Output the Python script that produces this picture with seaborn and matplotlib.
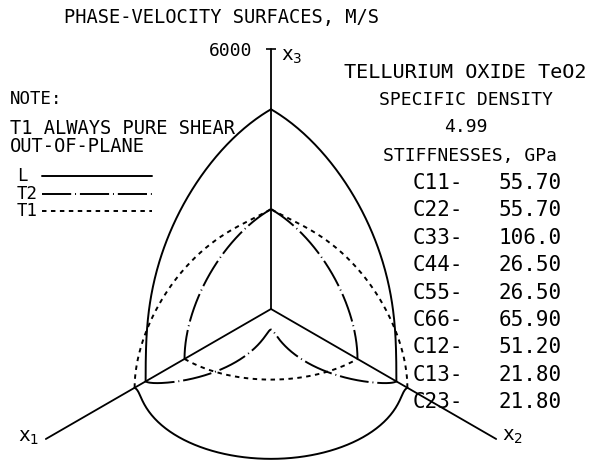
import numpy as np
import pandas as pd
import matplotlib
matplotlib.use("Agg")
import matplotlib.pyplot as plt
import seaborn as sns

# values printed on the chart (TeO2)
density = 4.99  # g/cc
stiff_names = ["C11", "C22", "C33", "C44", "C55", "C66", "C12", "C13", "C23"]
stiff_values = [55.70, 55.70, 106.0, 26.50, 26.50, 65.90, 51.20, 21.80, 21.80]  # GPa
stiff_labels = ["55.70", "55.70", "106.0", "26.50", "26.50", "65.90", "51.20", "21.80", "21.80"]
axis_max = 6000  # m/s, length of each drawn axis
axis_labels = ["x$_1$", "x$_2$", "x$_3$"]
planes = [(0, 2), (1, 2), (0, 1)]  # x1-x3, x2-x3, x1-x2
modes = ["L", "T2", "T1"]
angles = np.linspace(0, 90, 181)

VOIGT = [[0, 5, 4], [5, 1, 3], [4, 3, 2]]


def voigt_matrix(c):
    C = np.zeros((6, 6))
    C[0, 0], C[1, 1], C[2, 2] = c["C11"], c["C22"], c["C33"]
    C[3, 3], C[4, 4], C[5, 5] = c["C44"], c["C55"], c["C66"]
    C[0, 1] = C[1, 0] = c["C12"]
    C[0, 2] = C[2, 0] = c["C13"]
    C[1, 2] = C[2, 1] = c["C23"]
    return C


def christoffel(C, n):
    G = np.zeros((3, 3))
    for i in range(3):
        for k in range(3):
            G[i, k] = sum(C[VOIGT[i][j], VOIGT[k][l]] * n[j] * n[l]
                          for j in range(3) for l in range(3))
    return G


def project(x1, x2, x3):
    # isometric-style view, x3 up, x1 down-left, x2 down-right
    c30, s30 = np.cos(np.pi / 6), np.sin(np.pi / 6)
    return -x1 * c30 + x2 * c30, -x1 * s30 - x2 * s30 + x3


C = voigt_matrix(dict(zip(stiff_names, stiff_values)))

rows = []
for a, b in planes:
    c = 3 - a - b
    for th in angles:
        n = np.zeros(3)
        n[a], n[b] = np.cos(np.radians(th)), np.sin(np.radians(th))
        vals, vecs = np.linalg.eigh(christoffel(C, n))
        out_idx = np.argmax(np.abs(vecs[c, :]))
        inplane = sorted(v for i, v in enumerate(vals) if i != out_idx)
        speeds = {"L": inplane[1], "T2": inplane[0], "T1": vals[out_idx]}
        for m in modes:
            v = np.sqrt(speeds[m] * 1e9 / (density * 1000))
            px, py = project(*(n * v))
            rows.append({"curve": f"{a}{b}{m}", "mode": m, "px": px, "py": py})
df = pd.DataFrame(rows)

sns.set_style("white")
plt.rcParams["font.family"] = ["DejaVu Sans Mono", "DejaVu Sans"]
plt.rcParams["text.color"] = "black"

W, H = 600, 469
fig = plt.figure(figsize=(W / 100, H / 100), dpi=100)
ax = fig.add_axes([0, 0, 1, 1])
k = axis_max / 260.0  # m/s per pixel
ax.set_xlim(-271 * k, (W - 271) * k)
ax.set_ylim(-(H - 309) * k, 309 * k)
ax.axis("off")

# coordinate axes
for i in range(3):
    end = np.zeros(3)
    end[i] = axis_max
    ex, ey = project(*end)
    ax.plot([0, ex], [0, ey], color="black", lw=1.3)
ex, ey = project(0, 0, axis_max)
ax.plot([ex], [ey], marker="_", ms=7, mew=1.2, color="black")

dash_map = {"L": "", "T2": (15, 2, 0.5, 2), "T1": (2.3, 2.3)}
sns.lineplot(data=df, x="px", y="py", units="curve", style="mode",
             style_order=modes, dashes=dash_map, estimator=None, sort=False,
             color="black", lw=1.4, legend=False, ax=ax)
ax.set_xlabel("")
ax.set_ylabel("")


def ftext(x, y, s, size=13, ha="left", **kw):
    fig.text(x / W, 1 - y / H, s, fontsize=size, ha=ha, va="center", **kw)


ftext(221, 18, "PHASE-VELOCITY SURFACES, M/S", size=13.5, ha="center")
ftext(252, 51, str(axis_max), size=13, ha="right")
ftext(281, 57, axis_labels[2], size=14)
ftext(18, 437, axis_labels[0], size=14)
ftext(502, 436, axis_labels[1], size=14)

ftext(465, 72, "TELLURIUM OXIDE TeO2", size=14.5, ha="center")
ftext(466, 100, "SPECIFIC DENSITY", size=13, ha="center")
ftext(466, 127, f"{density:.2f}", size=13, ha="center")
ftext(383, 156, "STIFFNESSES, GPa", size=13)
for i, (name, lab) in enumerate(zip(stiff_names, stiff_labels)):
    ftext(413, 183 + i * 27.4, f"{name}-", size=15)
    ftext(562, 183 + i * 27.4, lab, size=15, ha="right")

ftext(10, 99, "NOTE:", size=12.5)
ftext(10, 128, "T1 ALWAYS PURE SHEAR", size=13.5)
ftext(10, 146, "OUT-OF-PLANE", size=13.5)
for i, m in enumerate(modes):
    y = 176 + i * 17.5
    ftext(17, y, m, size=12.5)
    fig.add_artist(plt.Line2D([42 / W, 152 / W], [1 - y / H, 1 - y / H],
                              color="black", lw=1.4,
                              dashes=dash_map[m] if dash_map[m] else (None, None)))

fig.savefig("out.png", dpi=100)
